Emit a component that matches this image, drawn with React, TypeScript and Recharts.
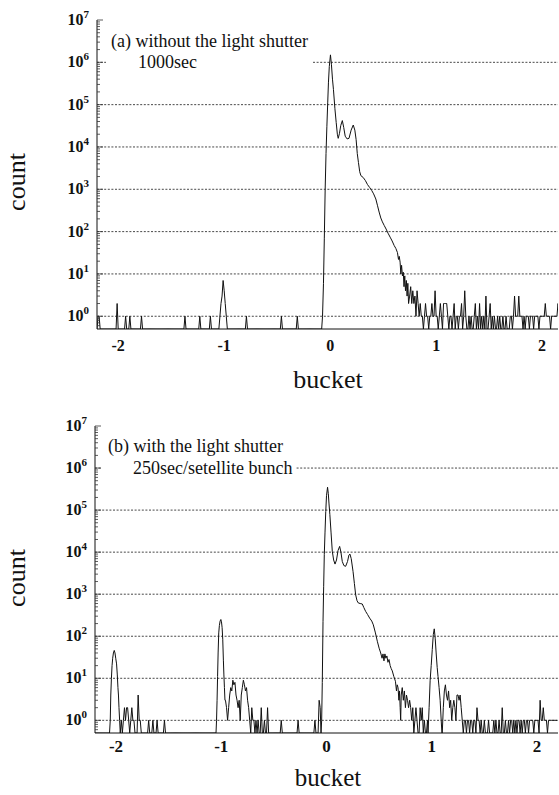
import React from "react";
import { ComposedChart, Line, XAxis, YAxis, ReferenceLine } from "recharts";

// histogram bins: 0.01 bucket wide, first bin at -2.2; each string = 20 bins (0.2 bucket)
const BIN_START = -2.2;
const BIN_WIDTH = 0.01;
const FLOOR = 0.5; // bottom of the log axis, empty bins sit here

const noiseA = [
  "01100000000000000002",
  "00000001000100000000",
  "00100000000000000000",
  "00000000000000000000",
  "00010000000000000100",
  "00000001000000001237",
  "42100000000000000000",
  "01000000000000000000",
  "00000000000000100000",
  "00000000010000000000",
  "00000000000000000000",
  "00000000000000000000",
  "00000000000000000000",
  "00000000000000000000",
  "00000000000000035242",
  "31421211012110112114",
  "11012102222101101201",
  "10112014100101001201",
  "02010103001201010010",
  "10010010001101311131",
  "11010111011101111011",
  "11121111011111121111",
];

// main bunch without shutter: [bucket, count]
const peakA: [number, number][] = [
  [-0.08, 0], [-0.072, 1], [-0.063, 6], [-0.055, 70], [-0.047, 1000], [-0.039, 7000],
  [-0.031, 3e4], [-0.023, 1.1e5], [-0.016, 3.4e5], [-0.008, 8e5], [0.003, 1.5e6],
  [0.012, 9e5], [0.022, 4e5], [0.031, 2.3e5], [0.045, 8e4], [0.057, 3.8e4], [0.068, 2e4],
  [0.076, 1.6e4], [0.088, 2.1e4], [0.1, 3.2e4], [0.115, 4.2e4], [0.128, 2.9e4],
  [0.142, 1.8e4], [0.16, 1.55e4], [0.178, 1.6e4], [0.198, 2.5e4], [0.218, 3.3e4],
  [0.233, 2.5e4], [0.245, 1.5e4], [0.256, 7e3], [0.267, 4.3e3], [0.279, 2.6e3],
  [0.29, 2.1e3], [0.312, 1.9e3], [0.333, 1.6e3], [0.352, 1.3e3], [0.373, 1.1e3],
  [0.393, 930], [0.41, 780], [0.431, 590], [0.446, 420], [0.462, 290], [0.478, 210],
  [0.493, 170], [0.51, 140], [0.528, 115], [0.546, 92], [0.566, 74], [0.585, 60],
  [0.604, 47], [0.62, 40], [0.635, 32], [0.645, 22], [0.652, 26], [0.66, 19], [0.667, 10],
  [0.674, 16], [0.682, 9], [0.69, 11], [0.697, 5], [0.704, 9], [0.711, 4], [0.719, 7],
  [0.726, 3], [0.733, 6], [0.74, 2],
];

const noiseB = [
  "00000000000000000000",
  "00000101212210121100",
  "04110000000100010001",
  "00000010000000000000",
  "00000000000000000000",
  "00000000000000000000",
  "00003212465978432314",
  "69756321021101010020",
  "01002000000000000100",
  "00000000000001000000",
  "00000000010003200000",
  "00000000000000000000",
  "00000000000000000000",
  "00000000000000000000",
  "00000000000463524323",
  "21201210021201001000",
  "00000000000257435231",
  "23214434210110110110",
  "11021101001000100001",
  "01001002001001011010",
  "10110101101101111011",
  "11031121110111111111",
];

// satellite bunches and main bunch with shutter
const peakBm2: [number, number][] = [
  [-2.062, 0], [-2.055, 1], [-2.05, 4], [-2.044, 10], [-2.038, 20], [-2.032, 30],
  [-2.025, 40], [-2.017, 46], [-2.01, 40], [-2.003, 30], [-1.995, 22], [-1.988, 12],
  [-1.982, 6], [-1.977, 4], [-1.972, 2], [-1.966, 1], [-1.96, 0],
];
const peakBm1: [number, number][] = [
  [-1.05, 0], [-1.045, 1], [-1.04, 3], [-1.035, 11], [-1.03, 40], [-1.024, 120],
  [-1.018, 180], [-1.011, 230], [-1.004, 250], [-0.998, 220], [-0.992, 160],
  [-0.986, 85], [-0.98, 27], [-0.975, 12], [-0.97, 6], [-0.965, 3],
];
const peakB0: [number, number][] = [
  [-0.052, 0], [-0.046, 1], [-0.04, 8], [-0.033, 225], [-0.027, 1500], [-0.021, 8700],
  [-0.014, 3e4], [-0.007, 9.3e4], [0.0, 2.2e5], [0.01, 3.5e5], [0.017, 2.5e5],
  [0.024, 1.4e5], [0.032, 7.8e4], [0.043, 3e4], [0.055, 1.05e4], [0.068, 6.5e3],
  [0.081, 5.2e3], [0.095, 6.5e3], [0.11, 1.1e4], [0.125, 1.37e4], [0.137, 1e4],
  [0.15, 6e3], [0.165, 4.8e3], [0.182, 4.6e3], [0.2, 6e3], [0.213, 8.5e3], [0.223, 9e3],
  [0.235, 7e3], [0.252, 3.5e3], [0.265, 1.8e3], [0.277, 970], [0.29, 700], [0.302, 620],
  [0.32, 600], [0.34, 585], [0.355, 480], [0.372, 390], [0.39, 330], [0.41, 270],
  [0.43, 230], [0.445, 187], [0.465, 120], [0.483, 76], [0.5, 52], [0.515, 40],
  [0.528, 30], [0.537, 38], [0.546, 26], [0.555, 38], [0.564, 30], [0.574, 34],
  [0.584, 24], [0.594, 28], [0.605, 20], [0.615, 17], [0.625, 15], [0.64, 11],
  [0.655, 8.5], [0.665, 5], [0.672, 7], [0.68, 6], [0.688, 3], [0.694, 5], [0.7, 2],
  [0.705, 1],
];
const peakBp1: [number, number][] = [
  [0.965, 0], [0.975, 2], [0.985, 9], [0.995, 20], [1.005, 48], [1.015, 110],
  [1.024, 150], [1.033, 90], [1.042, 40], [1.052, 18], [1.06, 11], [1.07, 6],
  [1.08, 3], [1.09, 1], [1.097, 0],
];

const xTicks = [-2, -1, 0, 1, 2];
const decades = [1, 10, 100, 1e3, 1e4, 1e5, 1e6, 1e7];
const gridLines = [1, 10, 100, 1e3, 1e4, 1e5, 1e6];
const minorTicks = [0.1, ...decades.slice(0, -1)].flatMap((d) =>
  [2, 3, 4, 5, 6, 7, 8, 9].map((m) => +(m * d).toPrecision(3))
).filter((v) => v > FLOOR);
const yTicks = [...minorTicks, ...decades].sort((a, b) => a - b);

type Pt = { bucket: number; count: number; shown: number };

function buildSeries(rows: string[], peaks: [number, number][][]): Pt[] {
  const ranges = peaks.map((p) => [p[0][0], p[p.length - 1][0]]);
  const pts: { bucket: number; count: number }[] = [];
  rows.join("").split("").forEach((ch, i) => {
    const bucket = +(BIN_START + i * BIN_WIDTH).toFixed(3);
    if (ranges.some(([a, b]) => bucket >= a && bucket <= b)) return;
    pts.push({ bucket, count: Number(ch) });
  });
  peaks.forEach((p) => p.forEach(([bucket, count]) => pts.push({ bucket, count })));
  pts.sort((a, b) => a.bucket - b.bucket);
  return pts.map((p) => ({ ...p, shown: Math.max(p.count, FLOOR) }));
}

const dataA = buildSeries(noiseA, [peakA]);
const dataB = buildSeries(noiseB, [peakBm2, peakBm1, peakB0, peakBp1]);

const SERIF = "'Liberation Serif', 'DejaVu Serif', serif";
const INK = "#111";

const isDecade = (v: number) =>
  Math.abs(Math.log10(v) - Math.round(Math.log10(v))) < 1e-6;

function LeftTick({ x, y, payload }: any) {
  const v = payload.value;
  const major = isDecade(v);
  return (
    <g>
      <line x1={x} x2={x + (major ? 6 : 3)} y1={y} y2={y} stroke="#333" strokeWidth={0.8} />
      {major && (
        <text x={x - 8} y={y + 5} textAnchor="end" fontFamily={SERIF} fontWeight="bold"
          fontSize={16} fill={INK}>
          10
          <tspan fontSize={11} dy={-7}>{Math.round(Math.log10(v))}</tspan>
        </text>
      )}
    </g>
  );
}

function RightTick({ x, y, payload }: any) {
  const major = isDecade(payload.value);
  return <line x1={x} x2={x - (major ? 6 : 3)} y1={y} y2={y} stroke="#555" strokeWidth={0.8} />;
}

function TopTick({ x, y }: any) {
  return <line x1={x} x2={x} y1={y} y2={y + 5} stroke="#333" />;
}

function Panel({ data, top, height, marginTop, yWidth, xDomain, tickDy, tickFs }: {
  data: Pt[]; top: number; height: number; marginTop: number; yWidth: number;
  xDomain: [number, number]; tickDy: number; tickFs: number;
}) {
  return (
    <div style={{ position: "absolute", left: 0, top }}>
      <ComposedChart width={559} height={height} data={data}
        margin={{ top: marginTop, right: 1, bottom: 0, left: 0 }}>
        <XAxis dataKey="bucket" type="number" domain={xDomain} allowDataOverflow
          ticks={xTicks} interval={0} height={40} tickLine={false} tickSize={0} tickMargin={0}
          axisLine={{ stroke: INK }}
          tick={({ x, y, payload }: any) => (
            <text x={x} y={y + tickDy} textAnchor="middle" fontFamily={SERIF}
              fontWeight="bold" fontSize={tickFs} fill={INK}>{payload.value}</text>
          )} />
        <XAxis xAxisId="top" orientation="top" dataKey="bucket" type="number" domain={xDomain}
          allowDataOverflow ticks={xTicks} interval={0} height={0} tickLine={false}
          tickSize={0} tickMargin={0} axisLine={{ stroke: "#444" }} tick={TopTick} />
        <YAxis scale="log" type="number" domain={[FLOOR, 1e7]} allowDataOverflow ticks={yTicks}
          interval={0} width={yWidth} tickLine={false} tickSize={0} tickMargin={0}
          axisLine={{ stroke: INK }} tick={LeftTick} />
        <YAxis yAxisId="right" orientation="right" scale="log" type="number"
          domain={[FLOOR, 1e7]} allowDataOverflow ticks={yTicks} interval={0} width={0}
          tickLine={false} tickSize={0} tickMargin={0} axisLine={{ stroke: "#777" }}
          tick={RightTick} />
        {gridLines.map((v) => (
          <ReferenceLine key={v} y={v} stroke="#333" strokeWidth={0.9} strokeDasharray="2 1.6" />
        ))}
        <Line type="linear" dataKey="shown" stroke={INK} strokeWidth={1} dot={false}
          activeDot={false} isAnimationActive={false} />
      </ComposedChart>
    </div>
  );
}

export default function App() {
  return (
    <div style={{ position: "absolute", left: 0, top: 0, width: 559, height: 795,
      overflow: "hidden", background: "#fff" }}>
      <Panel data={dataA} top={0} height={369} marginTop={20} yWidth={97}
        xDomain={[-2.2, 2.15]} tickDy={22} tickFs={16} />
      <Panel data={dataB} top={400} height={373} marginTop={26} yWidth={95}
        xDomain={[-2.2, 2.2]} tickDy={19} tickFs={17} />
      <svg width={559} height={795}
        style={{ position: "absolute", left: 0, top: 0, pointerEvents: "none" }}>
        <g fontFamily={SERIF} fill={INK}>
          <rect x={106} y={28} width={207} height={44} fill="#fff" />
          <text x={111} y={47} fontSize={18}>(a) without the light shutter</text>
          <text x={138} y={68} fontSize={18}>1000sec</text>
          <rect x={101} y={433} width={195} height={44} fill="#fff" />
          <text x={108} y={452} fontSize={18}>(b) with the light shutter</text>
          <text x={133} y={474} fontSize={18}>250sec/setellite bunch</text>
          <text x={25} y={182} fontSize={26} textAnchor="middle"
            transform="rotate(-90 25 182)">count</text>
          <text x={25} y={578} fontSize={26} textAnchor="middle"
            transform="rotate(-90 25 578)">count</text>
          <text x={328} y={388} fontSize={26} textAnchor="middle">bucket</text>
          <text x={328} y={786} fontSize={25} textAnchor="middle">bucket</text>
        </g>
      </svg>
    </div>
  );
}
